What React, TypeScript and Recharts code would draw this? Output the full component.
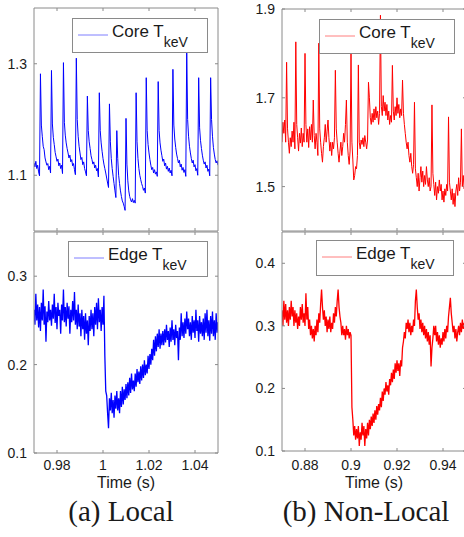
import React from 'react';
import { LineChart, Line, XAxis, YAxis } from 'recharts';

// ---------- data ----------
const LOCAL_T0 = 0.97;
const NONLOCAL_T0 = 0.87;
const SAMPLE_DT = 0.0004;

const LOCAL_X_TICKS = [0.98, 1, 1.02, 1.04];
const NONLOCAL_X_TICKS = [0.88, 0.9, 0.92, 0.94];
const LOCAL_CORE_TICKS = [1.1, 1.3];
const LOCAL_EDGE_TICKS = [0.1, 0.2, 0.3];
const NONLOCAL_CORE_TICKS = [1.5, 1.7, 1.9];
const NONLOCAL_EDGE_TICKS = [0.1, 0.2, 0.3, 0.4];

const LOCAL_CORE = [
  1.122, 1.115, 1.125, 1.112, 1.118, 1.106, 1.099, 1.282, 1.19, 1.17,
  1.152, 1.146, 1.131, 1.124, 1.118, 1.121, 1.110, 1.116, 1.104, 1.288,
  1.192, 1.168, 1.155, 1.141, 1.133, 1.125, 1.129, 1.117, 1.122, 1.112,
  1.118, 1.103, 1.302, 1.195, 1.172, 1.158, 1.148, 1.14, 1.131, 1.136,
  1.124, 1.128, 1.117, 1.121, 1.11, 1.101, 1.31, 1.2, 1.17, 1.152,
  1.14, 1.128, 1.132, 1.119, 1.124, 1.112, 1.106, 1.099, 1.242, 1.18,
  1.16, 1.148, 1.135, 1.128, 1.12, 1.124, 1.113, 1.118, 1.108, 1.112,
  1.097, 1.248, 1.18, 1.158, 1.143, 1.13, 1.12, 1.112, 1.104, 1.095,
  1.086, 1.078, 1.228, 1.16, 1.13, 1.112, 1.098, 1.085, 1.072, 1.06,
  1.18, 1.13, 1.1, 1.085, 1.072, 1.062, 1.054, 1.05, 1.044, 1.037,
  1.202, 1.12, 1.09, 1.072, 1.062, 1.056, 1.052, 1.058, 1.051, 1.055,
  1.05, 1.248, 1.16, 1.13, 1.112, 1.1, 1.092, 1.085, 1.08, 1.073,
  1.077, 1.068, 1.275, 1.18, 1.155, 1.14, 1.128, 1.118, 1.11, 1.114,
  1.104, 1.11, 1.102, 1.106, 1.098, 1.268, 1.18, 1.158, 1.145, 1.135,
  1.125, 1.129, 1.117, 1.122, 1.111, 1.116, 1.107, 1.113, 1.104, 1.109,
  1.099, 1.29, 1.19, 1.165, 1.15, 1.138, 1.13, 1.122, 1.127, 1.115,
  1.12, 1.109, 1.114, 1.105, 1.11, 1.098, 1.325, 1.2, 1.17, 1.152,
  1.14, 1.13, 1.122, 1.127, 1.115, 1.119, 1.108, 1.112, 1.1, 1.275,
  1.185, 1.162, 1.148, 1.136, 1.127, 1.12, 1.124, 1.113, 1.118, 1.107,
  1.111, 1.099, 1.275, 1.2, 1.17, 1.15, 1.138, 1.128, 1.122, 1.126,
  1.118,
];

const LOCAL_EDGE = [
  0.262, 0.245, 0.28, 0.25, 0.268, 0.242, 0.265, 0.238, 0.27, 0.25,
  0.285, 0.245, 0.266, 0.226, 0.26, 0.248, 0.272, 0.25, 0.262, 0.244,
  0.268, 0.252, 0.28, 0.247, 0.265, 0.24, 0.27, 0.255, 0.262, 0.235,
  0.268, 0.25, 0.285, 0.248, 0.265, 0.243, 0.27, 0.252, 0.266, 0.235,
  0.262, 0.248, 0.272, 0.25, 0.282, 0.245, 0.262, 0.24, 0.268, 0.243,
  0.258, 0.232, 0.262, 0.24, 0.255, 0.228, 0.258, 0.235, 0.25, 0.222,
  0.255, 0.238, 0.262, 0.24, 0.258, 0.232, 0.265, 0.245, 0.27, 0.24,
  0.275, 0.248, 0.262, 0.238, 0.265, 0.245, 0.278, 0.21, 0.17, 0.165,
  0.145, 0.128, 0.162, 0.148, 0.168, 0.145, 0.16, 0.14, 0.165, 0.15,
  0.17, 0.148, 0.162, 0.145, 0.17, 0.152, 0.175, 0.155, 0.172, 0.16,
  0.178, 0.162, 0.18, 0.165, 0.185, 0.168, 0.19, 0.172, 0.182, 0.17,
  0.19, 0.175, 0.195, 0.18, 0.192, 0.178, 0.198, 0.182, 0.2, 0.185,
  0.205, 0.188, 0.2, 0.19, 0.21, 0.195, 0.212, 0.2, 0.218, 0.205,
  0.228, 0.21, 0.232, 0.215, 0.235, 0.22, 0.24, 0.218, 0.235, 0.222,
  0.238, 0.222, 0.24, 0.225, 0.245, 0.228, 0.238, 0.22, 0.242, 0.226,
  0.25, 0.228, 0.24, 0.222, 0.245, 0.23, 0.238, 0.205, 0.242, 0.228,
  0.258, 0.232, 0.248, 0.23, 0.252, 0.235, 0.26, 0.24, 0.252, 0.232,
  0.248, 0.228, 0.255, 0.236, 0.25, 0.23, 0.262, 0.238, 0.25, 0.226,
  0.255, 0.235, 0.248, 0.232, 0.252, 0.228, 0.258, 0.236, 0.262, 0.232,
  0.25, 0.227, 0.255, 0.235, 0.26, 0.232, 0.25, 0.228, 0.258, 0.236,
  0.248,
];

const NONLOCAL_CORE = [
  1.6, 1.645, 1.62, 1.65, 1.6, 1.78, 1.63, 1.6, 1.575, 1.61,
  1.59, 1.625, 1.6, 1.645, 1.585, 1.826, 1.64, 1.61, 1.58, 1.62,
  1.598, 1.632, 1.59, 1.62, 1.6, 1.8, 1.64, 1.6, 1.63, 1.588,
  1.635, 1.605, 1.64, 1.6, 1.695, 1.615, 1.585, 1.62, 1.6, 1.57,
  1.823, 1.63, 1.6, 1.575, 1.555, 1.59, 1.61, 1.64, 1.6, 1.625,
  1.65, 1.61, 1.58, 1.6, 1.57, 1.6, 1.585, 1.61, 1.762, 1.63,
  1.6, 1.575, 1.555, 1.58, 1.6, 1.57, 1.59, 1.62, 1.6, 1.64,
  1.695, 1.6, 1.57, 1.55, 1.58, 1.8, 1.6, 1.56, 1.515, 1.525,
  1.545, 1.54, 1.57, 1.774, 1.6, 1.585, 1.605, 1.595, 1.61, 1.59,
  1.615, 1.6, 1.585, 1.605, 1.735, 1.7, 1.655, 1.64, 1.665, 1.645,
  1.675, 1.65, 1.68, 1.655, 1.67, 1.64, 1.665, 1.886, 1.68, 1.66,
  1.705, 1.67, 1.69, 1.66, 1.685, 1.65, 1.67, 1.64, 1.66, 1.645,
  1.773, 1.67, 1.65, 1.68, 1.66, 1.7, 1.665, 1.685, 1.655, 1.675,
  1.66, 1.74, 1.665, 1.64, 1.62, 1.6, 1.585, 1.6, 1.57, 1.555,
  1.575, 1.545, 1.53, 1.55, 1.69, 1.54, 1.52, 1.5, 1.53, 1.49,
  1.52, 1.545, 1.51, 1.535, 1.5, 1.525, 1.505, 1.545, 1.515, 1.5,
  1.52, 1.49, 1.5, 1.684, 1.53, 1.505, 1.48, 1.51, 1.47, 1.5,
  1.485, 1.515, 1.49, 1.505, 1.47, 1.49, 1.465, 1.495, 1.48, 1.505,
  1.49, 1.657, 1.51, 1.49, 1.47, 1.495, 1.46, 1.485, 1.455, 1.49,
  1.505, 1.48, 1.52, 1.49, 1.51, 1.63, 1.5, 1.525, 1.495, 1.515,
  1.505,
];

const NONLOCAL_EDGE = [
  0.325, 0.3, 0.34, 0.31, 0.335, 0.305, 0.325, 0.3, 0.33, 0.31,
  0.34, 0.315, 0.33, 0.3, 0.325, 0.305, 0.32, 0.295, 0.315, 0.3,
  0.33, 0.31, 0.335, 0.305, 0.32, 0.3, 0.352, 0.31, 0.33, 0.295,
  0.31, 0.285, 0.3, 0.28, 0.295, 0.275, 0.3, 0.285, 0.31, 0.29,
  0.32, 0.305, 0.335, 0.358, 0.33, 0.31, 0.325, 0.3, 0.315, 0.29,
  0.31, 0.295, 0.315, 0.29, 0.305, 0.295, 0.32, 0.305, 0.33, 0.315,
  0.34, 0.358, 0.33, 0.315, 0.305, 0.285, 0.3, 0.285, 0.295, 0.278,
  0.3, 0.285, 0.295, 0.28, 0.29, 0.285, 0.17, 0.15, 0.125, 0.14,
  0.118, 0.135, 0.12, 0.14, 0.108, 0.13, 0.118, 0.145, 0.125, 0.14,
  0.108, 0.135, 0.12, 0.145, 0.125, 0.15, 0.135, 0.155, 0.14, 0.16,
  0.145, 0.165, 0.15, 0.172, 0.158, 0.175, 0.165, 0.185, 0.17, 0.195,
  0.18, 0.2, 0.19, 0.21, 0.195, 0.205, 0.19, 0.215, 0.205, 0.225,
  0.21, 0.23, 0.215, 0.24, 0.225, 0.245, 0.228, 0.24, 0.22, 0.245,
  0.235, 0.265, 0.275, 0.29, 0.28, 0.305, 0.295, 0.31, 0.29, 0.305,
  0.285, 0.3, 0.29, 0.31, 0.3, 0.34, 0.358, 0.33, 0.31, 0.32,
  0.295, 0.31, 0.29, 0.305, 0.285, 0.3, 0.28, 0.295, 0.275, 0.29,
  0.27, 0.285, 0.235, 0.265, 0.28, 0.3, 0.285, 0.3, 0.275, 0.29,
  0.27, 0.285, 0.265, 0.28, 0.27, 0.29, 0.275, 0.295, 0.28, 0.3,
  0.29, 0.315, 0.33, 0.345, 0.32, 0.305, 0.29, 0.3, 0.28, 0.295,
  0.275, 0.29, 0.3, 0.285, 0.305, 0.29, 0.31, 0.295, 0.305, 0.29,
  0.3,
];

// ---------- styling ----------
const AXIS = '#8a8a8a';
const TEXT = '#1a1a1a';
const SANS = '"Liberation Sans", Arial, Helvetica, sans-serif';
const SERIF = '"Liberation Serif", "Times New Roman", serif';
const TICK = 3;
const BLUE = '#0000ff';
const RED = '#ff0000';

type Row = { t: number; v: number };
const toRows = (t0: number, values: number[]): Row[] =>
  values.map((v, i) => ({ t: Number((t0 + i * SAMPLE_DT).toFixed(5)), v }));

type PanelProps = {
  left: number;
  top: number;
  width: number;
  height: number;
  plotTop: number;
  plotBottom: number;
  rows: Row[];
  xDomain: [number, number];
  xTicks: number[];
  yDomain: [number, number];
  yTicks: number[];
  color: string;
  strokeWidth: number;
  showXLabels: boolean;
  xLabelOffset: number;
};

const Y_AXIS_W = 34;
const PLOT_W = 184;

function Panel(p: PanelProps) {
  const bottomTick = (props: any) => {
    const { x, y, payload } = props;
    return (
      <g>
        <line x1={x} y1={y} x2={x} y2={y - TICK} stroke={AXIS} strokeWidth={1} />
        {p.showXLabels && (
          <text x={x} y={y + p.xLabelOffset} textAnchor="middle" fontSize={14} fill={TEXT} fontFamily={SANS}>
            {String(payload.value)}
          </text>
        )}
      </g>
    );
  };
  const topTick = (props: any) => {
    const { x, y } = props;
    return <line x1={x} y1={y} x2={x} y2={y + TICK} stroke={AXIS} strokeWidth={1} />;
  };
  const leftTick = (props: any) => {
    const { x, y, payload } = props;
    return (
      <g>
        <line x1={x} y1={y} x2={x + TICK} y2={y} stroke={AXIS} strokeWidth={1} />
        <text x={x - 7} y={y} dy="0.36em" textAnchor="end" fontSize={14} fill={TEXT} fontFamily={SANS}>
          {String(payload.value)}
        </text>
      </g>
    );
  };
  const rightTick = (props: any) => {
    const { x, y } = props;
    return <line x1={x} y1={y} x2={x - TICK} y2={y} stroke={AXIS} strokeWidth={1} />;
  };

  const bottomAxisH = p.height - p.plotBottom;
  const margin = {
    top: p.plotTop - 1,
    right: p.width - Y_AXIS_W - PLOT_W - 1,
    bottom: 0,
    left: 0,
  };

  return (
    <div style={{ position: 'absolute', left: p.left, top: p.top }}>
      <LineChart width={p.width} height={p.height} data={p.rows} margin={margin}>
        <XAxis
          xAxisId="b"
          dataKey="t"
          type="number"
          domain={p.xDomain}
          ticks={p.xTicks}
          allowDataOverflow
          interval={0}
          height={bottomAxisH}
          tickSize={0}
          tickMargin={0}
          tickLine={false}
          axisLine={{ stroke: AXIS, strokeWidth: 1 }}
          tick={bottomTick}
        />
        <XAxis
          xAxisId="t"
          orientation="top"
          dataKey="t"
          type="number"
          domain={p.xDomain}
          ticks={p.xTicks}
          allowDataOverflow
          interval={0}
          height={1}
          tickSize={0}
          tickMargin={0}
          tickLine={false}
          axisLine={{ stroke: AXIS, strokeWidth: 1 }}
          tick={topTick}
        />
        <YAxis
          yAxisId="l"
          type="number"
          domain={p.yDomain}
          ticks={p.yTicks}
          allowDataOverflow
          interval={0}
          width={Y_AXIS_W}
          tickSize={0}
          tickMargin={0}
          tickLine={false}
          axisLine={{ stroke: AXIS, strokeWidth: 1 }}
          tick={leftTick}
        />
        <YAxis
          yAxisId="r"
          orientation="right"
          type="number"
          domain={p.yDomain}
          ticks={p.yTicks}
          allowDataOverflow
          interval={0}
          width={1}
          tickSize={0}
          tickMargin={0}
          tickLine={false}
          axisLine={{ stroke: AXIS, strokeWidth: 1 }}
          tick={rightTick}
        />
        <Line
          xAxisId="t"
          yAxisId="r"
          dataKey="v"
          stroke="none"
          dot={false}
          activeDot={false}
          isAnimationActive={false}
        />
        <Line
          xAxisId="b"
          yAxisId="l"
          dataKey="v"
          type="linear"
          stroke={p.color}
          strokeWidth={p.strokeWidth}
          dot={false}
          activeDot={false}
          isAnimationActive={false}
        />
      </LineChart>
    </div>
  );
}

function LegendBox(props: { left: number; top: number; width: number; height: number; color: string; label: string }) {
  const { left, top, width, height, color, label } = props;
  return (
    <div
      style={{
        position: 'absolute',
        left,
        top,
        width,
        height,
        boxSizing: 'border-box',
        border: `1px solid ${AXIS}`,
        background: '#fff',
      }}
    >
      <svg width={width - 2} height={height - 2} style={{ display: 'block' }}>
        <line x1={5} x2={35} y1={16} y2={16} stroke={color} strokeWidth={1} />
        <text x={39} y={18} fontSize={17} fontFamily={SANS} fill={TEXT}>
          {label} T
          <tspan fontSize={14} dy={10}>keV</tspan>
        </text>
      </svg>
    </div>
  );
}

const textStyle = (left: number, top: number, width: number, size: number, family: string): React.CSSProperties => ({
  position: 'absolute',
  left,
  top,
  width,
  textAlign: 'center',
  fontSize: size,
  fontFamily: family,
  color: TEXT,
  lineHeight: `${size}px`,
  whiteSpace: 'nowrap',
});

export default function App() {
  const localCore = toRows(LOCAL_T0, LOCAL_CORE);
  const localEdge = toRows(LOCAL_T0, LOCAL_EDGE);
  const nonlocalCore = toRows(NONLOCAL_T0, NONLOCAL_CORE);
  const nonlocalEdge = toRows(NONLOCAL_T0, NONLOCAL_EDGE);

  return (
    <div
      style={{
        position: 'absolute',
        left: 0,
        top: 0,
        width: 464,
        height: 537,
        overflow: 'hidden',
        background: '#fff',
      }}
    >
      <Panel
        left={0}
        top={0}
        width={232}
        height={232}
        plotTop={8}
        plotBottom={231}
        rows={localCore}
        xDomain={[0.97, 1.05]}
        xTicks={LOCAL_X_TICKS}
        yDomain={[1.0, 1.4]}
        yTicks={LOCAL_CORE_TICKS}
        color={BLUE}
        strokeWidth={1}
        showXLabels={false}
        xLabelOffset={17}
      />
      <Panel
        left={0}
        top={231}
        width={232}
        height={245}
        plotTop={1}
        plotBottom={222}
        rows={localEdge}
        xDomain={[0.97, 1.05]}
        xTicks={LOCAL_X_TICKS}
        yDomain={[0.1, 0.35]}
        yTicks={LOCAL_EDGE_TICKS}
        color={BLUE}
        strokeWidth={1.3}
        showXLabels={true}
        xLabelOffset={17}
      />
      <Panel
        left={248}
        top={0}
        width={232}
        height={232}
        plotTop={9}
        plotBottom={231}
        rows={nonlocalCore}
        xDomain={[0.87, 0.95]}
        xTicks={NONLOCAL_X_TICKS}
        yDomain={[1.4, 1.9]}
        yTicks={NONLOCAL_CORE_TICKS}
        color={RED}
        strokeWidth={1}
        showXLabels={false}
        xLabelOffset={17}
      />
      <Panel
        left={248}
        top={231}
        width={232}
        height={245}
        plotTop={1}
        plotBottom={220}
        rows={nonlocalEdge}
        xDomain={[0.87, 0.95]}
        xTicks={NONLOCAL_X_TICKS}
        yDomain={[0.1, 0.45]}
        yTicks={NONLOCAL_EDGE_TICKS}
        color={RED}
        strokeWidth={1.3}
        showXLabels={true}
        xLabelOffset={19}
      />

      <LegendBox left={72} top={18} width={136} height={35} color="#7f7fff" label="Core" />
      <LegendBox left={319} top={19} width={136} height={35} color="#ff7f7f" label="Core" />
      <LegendBox left={68} top={241} width={140} height={36} color="#7f7fff" label="Edge" />
      <LegendBox left={316} top={240} width={138} height={36} color="#ff7f7f" label="Edge" />

      <div style={textStyle(76, 475, 100, 16, SANS)}>Time (s)</div>
      <div style={textStyle(324, 475, 100, 16, SANS)}>Time (s)</div>
      <div style={textStyle(21, 497, 200, 29, SERIF)}>(a) Local</div>
      <div style={textStyle(266, 497, 200, 29, SERIF)}>(b) Non-Local</div>
    </div>
  );
}
